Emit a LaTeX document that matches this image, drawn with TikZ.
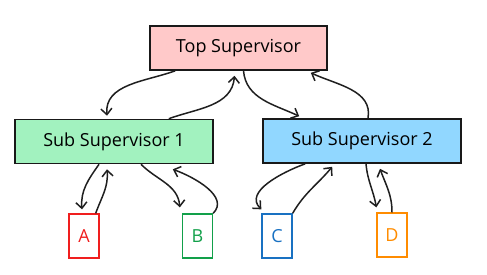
\documentclass[tikz,border=0pt]{standalone}
\usepackage{fontspec}
\setmainfont{Open Sans}
\usetikzlibrary{arrows.meta}
\definecolor{toppink}{HTML}{FFC9C9}
\definecolor{subgreen}{HTML}{A2F2BF}
\definecolor{subblue}{HTML}{91D7FF}
\definecolor{wred}{HTML}{F01E1E}
\definecolor{wgreen}{HTML}{12A04A}
\definecolor{wblue}{HTML}{1971C2}
\definecolor{worange}{HTML}{FF8C00}
\tikzset{
  boss/.style={rectangle, draw=black!90, line width=1.6pt, minimum height=44pt, inner sep=0pt, font=\fontsize{18}{21}\selectfont},
  worker/.style={rectangle, line width=1.3pt, minimum width=30pt, minimum height=44pt, inner sep=0pt, font=\fontsize{18}{21}\selectfont},
  link/.style={draw=black!88, line width=1.5pt, -{Straight Barb[length=6pt,width=11pt]}}
}
\begin{document}
\begin{tikzpicture}[x=1pt, y=-1pt]
\useasboundingbox (0,0) rectangle (487,274);
\node[boss, fill=toppink, minimum width=177pt] (top) at (238.5,48) {Top Supervisor};
\node[boss, fill=subgreen, minimum width=198pt] (sub1) at (114,141.5) {Sub Supervisor 1};
\node[boss, fill=subblue, minimum width=198pt] (sub2) at (362,141) {Sub Supervisor 2};
\node[worker, draw=wred, text=wred] (wa) at (84,236) {A};
\node[worker, draw=wgreen, text=wgreen] (wb) at (197.5,236) {B};
\node[worker, draw=wblue, text=wblue] (wc) at (277,236) {C};
\node[worker, draw=worange, text=worange] (wd) at (392,235) {D};
% top and sub supervisors
\draw[link] ([xshift=26pt]top.south west) to[out=200, in=95] ([xshift=-7pt,yshift=3pt]sub1.north);
\draw[link] ([xshift=-45pt]sub1.north east) to[out=20, in=-95] ([xshift=-4pt,yshift=-5pt]top.south);
\draw[link] ([xshift=5pt]top.south) to[out=-85, in=155] ([xshift=37pt,yshift=2pt]sub2.north west);
\draw[link] ([xshift=6pt]sub2.north) to[out=80, in=-25] ([xshift=-17pt,yshift=-2pt]top.south east);
% sub supervisors and workers
\draw[link] ([xshift=-15pt]sub1.south) to[out=-125, in=95] ([xshift=-2pt,yshift=4pt]wa.north);
\draw[link] ([xshift=-4pt]wa.north east) to[out=70, in=-85] ([xshift=-7pt,yshift=-5pt]sub1.south);
\draw[link] ([xshift=27pt]sub1.south) to[out=-45, in=95] ([xshift=-2pt,yshift=6pt]wb.north west);
\draw[link] (wb.north east) to[out=45, in=-20] ([xshift=-41pt,yshift=-5pt]sub1.south east);
\draw[link] ([xshift=43pt]sub2.south west) to[out=200, in=135] ([yshift=4pt]wc.north west);
\draw[link] (wc.north east) to[out=60, in=-130] ([xshift=70pt,yshift=-3pt]sub2.south west);
\draw[link] ([xshift=4pt]sub2.south) to[out=-85, in=100] ([yshift=5pt]wd.north west);
\draw[link] (wd.north) to[out=90, in=-70] ([xshift=18pt,yshift=-5pt]sub2.south);
\end{tikzpicture}
\end{document}
